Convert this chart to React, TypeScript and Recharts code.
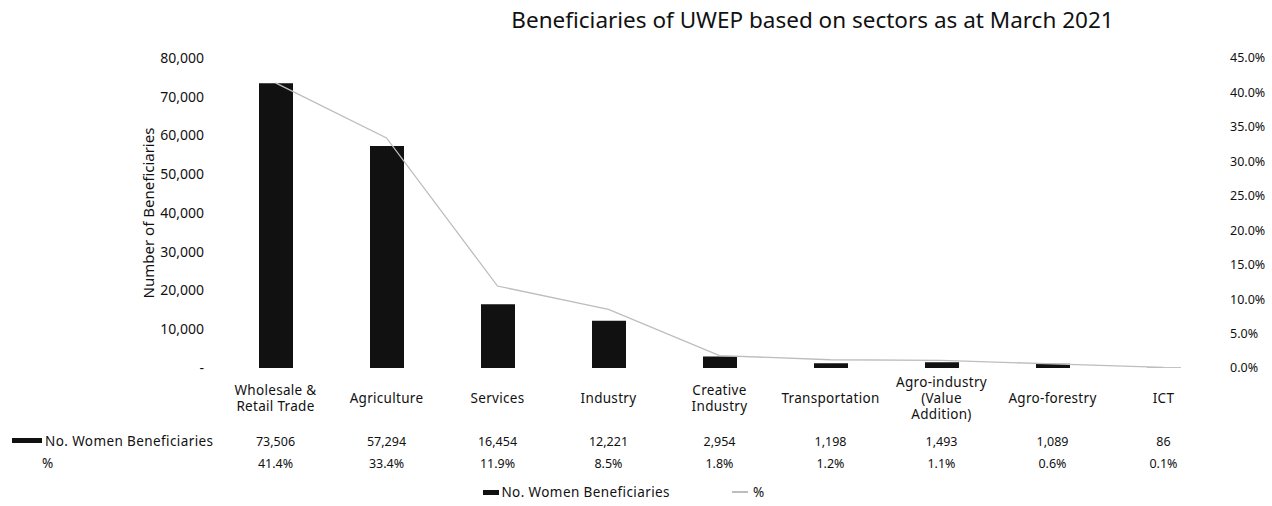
import { ComposedChart, Bar, Line, XAxis, YAxis, Legend } from "recharts";

const categories = [
  "Wholesale &\nRetail Trade",
  "Agriculture",
  "Services",
  "Industry",
  "Creative\nIndustry",
  "Transportation",
  "Agro-industry\n(Value\nAddition)",
  "Agro-forestry",
  "ICT",
];
const beneficiaries = [73506, 57294, 16454, 12221, 2954, 1198, 1493, 1089, 86];
const percents = [41.4, 33.4, 11.9, 8.5, 1.8, 1.2, 1.1, 0.6, 0.1];
const leftTicks = [0, 10000, 20000, 30000, 40000, 50000, 60000, 70000, 80000];
const rightTicks = [0, 5, 10, 15, 20, 25, 30, 35, 40, 45];

const data = categories.map((name, i) => ({
  name,
  count: beneficiaries[i],
  pct: percents[i],
}));

const FONT = "'Noto Sans', sans-serif";
const BAR = "#111";
const LINE = "#bdbdbd";

function TableTick(props: any) {
  const { x, y, payload, index } = props;
  const lines: string[] = String(payload.value).split("\n");
  const startY = y + 22 - ((lines.length - 1) * 16) / 2;
  return (
    <g fontFamily={FONT} fill="#111">
      {lines.map((t, k) => (
        <text
          key={k}
          x={x}
          y={startY + k * 16}
          textAnchor="middle"
          dominantBaseline="central"
          fontSize={13.5}
          letterSpacing={0.3}
          fill="#111"
        >
          {t}
        </text>
      ))}
      <text x={x} y={y + 65} textAnchor="middle" dominantBaseline="central" fontSize={12.5} fill="#111">
        {beneficiaries[index].toLocaleString("en-US")}
      </text>
      <text x={x} y={y + 87} textAnchor="middle" dominantBaseline="central" fontSize={12.5} fill="#111">
        {percents[index].toFixed(1) + "%"}
      </text>
      {index === 0 && (
        <g fontSize={13.5}>
          <rect x={12} y={y + 62} width={30} height={5} fill={BAR} />
          <text x={45} y={y + 65} dominantBaseline="central" letterSpacing={0.4} fill="#111">
            No. Women Beneficiaries
          </text>
          <text x={42} y={y + 87} dominantBaseline="central" fill="#111">
            %
          </text>
        </g>
      )}
    </g>
  );
}

function LegendContent() {
  return (
    <div
      style={{
        display: "flex",
        justifyContent: "center",
        alignItems: "center",
        gap: 62,
        fontFamily: FONT,
        fontSize: 13.5,
        letterSpacing: 0.4,
        color: "#111",
        paddingRight: 24,
        paddingTop: 3,
      }}
    >
      <span style={{ display: "flex", alignItems: "center", gap: 2 }}>
        <span style={{ display: "inline-block", width: 16, height: 5, background: BAR }} />
        No. Women Beneficiaries
      </span>
      <span style={{ display: "flex", alignItems: "center", gap: 5 }}>
        <span style={{ display: "inline-block", width: 16, height: 1.5, background: LINE }} />
        %
      </span>
    </div>
  );
}

export default function App() {
  return (
    <div style={{ position: "absolute", left: 0, top: 0, width: 1272, height: 506, background: "#fff" }}>
      <div
        style={{
          position: "absolute",
          top: 4,
          left: 460,
          width: 705,
          textAlign: "center",
          fontFamily: FONT,
          fontSize: 22.5,
          color: "#111",
          whiteSpace: "nowrap",
        }}
      >
        Beneficiaries of UWEP based on sectors as at March 2021
      </div>
      <ComposedChart
        width={1272}
        height={506}
        data={data}
        margin={{ top: 58, right: 0, bottom: 0, left: 0 }}
      >
        <XAxis
          dataKey="name"
          axisLine={false}
          tickLine={false}
          interval={0}
          height={112}
          tick={<TableTick />}
        />
        <YAxis
          yAxisId="left"
          width={220}
          domain={[0, 80000]}
          ticks={leftTicks}
          axisLine={false}
          tickLine={false}
          tickSize={6}
          tickMargin={10}
          tick={{ fontFamily: FONT, fontSize: 14, fill: "#111" }}
          tickFormatter={(v: number) => (v === 0 ? "-" : v.toLocaleString("en-US"))}
          label={{
            value: "Number of Beneficiaries",
            angle: -90,
            position: "center",
            dx: 39,
            style: { fontFamily: FONT, fontSize: 15, fill: "#111" },
          }}
        />
        <YAxis
          yAxisId="right"
          orientation="right"
          width={53}
          domain={[0, 45]}
          ticks={rightTicks}
          axisLine={false}
          tickLine={false}
          tickSize={6}
          tickMargin={5}
          tick={{ fontFamily: FONT, fontSize: 12.5, fill: "#111" }}
          tickFormatter={(v: number) => v.toFixed(1) + "%"}
        />
        <Bar yAxisId="left" dataKey="count" name="No. Women Beneficiaries" fill={BAR} barSize={34} isAnimationActive={false} />
        <Line
          yAxisId="right"
          dataKey="pct"
          name="%"
          stroke={LINE}
          strokeWidth={1.3}
          dot={false}
          isAnimationActive={false}
        />
        <Legend verticalAlign="bottom" height={26} content={<LegendContent />} />
      </ComposedChart>
    </div>
  );
}
